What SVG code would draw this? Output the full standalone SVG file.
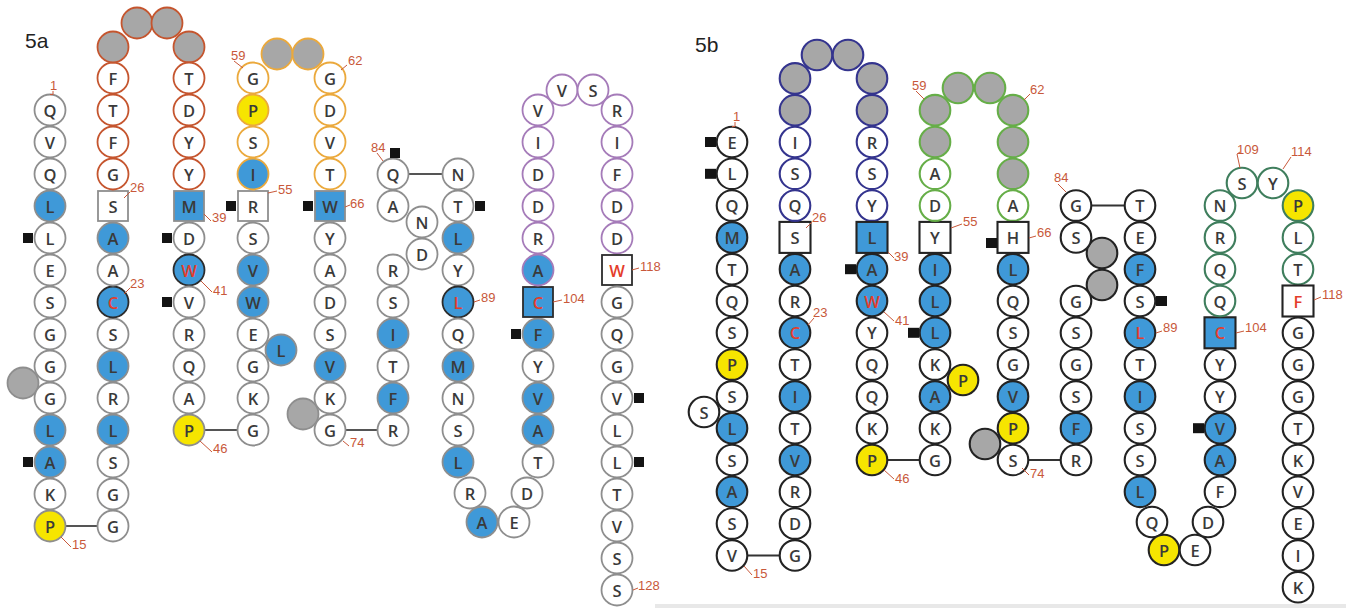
<svg xmlns="http://www.w3.org/2000/svg" width="1346" height="609" viewBox="0 0 1346 609">
<style>
  .n{fill:#fff;stroke:#8e8e8e;stroke-width:1.8}
  .m{fill:#fff;stroke:#232323;stroke-width:2.1}
  .B{fill:#3f99d8}
  .Y{fill:#f6e500}
  .G{fill:#a7a7a7}
  .k{stroke:#2c2c2c}
  .cr{stroke:#c5552e}
  .co{stroke:#eba93c}
  .cp{stroke:#a57bb9}
  .cn{stroke:#34348e}
  .cg{stroke:#66ae48}
  .ct{stroke:#3f7e5d}
  .t{font-family:"Open Sans","Liberation Sans",sans-serif;font-size:16.5px;font-weight:600;fill:#3a3a3a;text-anchor:middle;dominant-baseline:central}
  .R{fill:#e43d2b}
  .l{font-family:"Liberation Sans",sans-serif;font-size:13px;fill:#c8583a}
  .ld{stroke:#c8583a;stroke-width:1;fill:none}
  .q{fill:#141414}
  .cx{stroke:#555;stroke-width:2}
  .cxb{stroke:#333;stroke-width:2}
  .h{font-family:"Liberation Sans",sans-serif;font-size:21px;fill:#222}
</style>
<rect width="1346" height="609" fill="#fff"/>
<line x1="655" y1="606" x2="1346" y2="606" stroke="#e8e8e8" stroke-width="4"/>
<text class="h" x="25" y="48">5a</text>
<text class="h" x="695" y="52">5b</text>

<!-- peptide-bond connectors between strands -->
<g id="connectors">
  <line class="cx" x1="50" y1="526" x2="113" y2="526"/>
  <line class="cx" x1="189" y1="430" x2="253" y2="430"/>
  <line class="cx" x1="330" y1="430" x2="393" y2="430"/>
  <line class="cx" x1="393" y1="174" x2="458" y2="174"/>
  <line class="cxb" x1="732" y1="555.4" x2="795" y2="555.4"/>
  <line class="cxb" x1="872" y1="460" x2="935" y2="460"/>
  <line class="cxb" x1="1013" y1="460" x2="1076" y2="460"/>
  <line class="cxb" x1="1076" y1="205.6" x2="1140" y2="205.6"/>
</g>

<!-- ===== panel 5a ===== -->
<g id="panel-a">
  <!-- unresolved residues drawn first so neighbours overlap them -->
  <g id="a-x1"><circle class="n G" cx="23" cy="383" r="15.5"/></g>
  <g id="a-x2"><circle class="n G" cx="303" cy="414" r="15.5"/></g>

  <!-- strand 1 -->
  <g id="a1"><circle class="n" cx="50" cy="110" r="15.5"/><text class="t" x="50" y="110">Q</text></g>
  <g id="a2"><circle class="n" cx="50" cy="142" r="15.5"/><text class="t" x="50" y="142">V</text></g>
  <g id="a3"><circle class="n" cx="50" cy="174" r="15.5"/><text class="t" x="50" y="174">Q</text></g>
  <g id="a4"><circle class="n B" cx="50" cy="206" r="15.5"/><text class="t" x="50" y="206">L</text></g>
  <g id="a5"><circle class="n" cx="50" cy="238" r="15.5"/><text class="t" x="50" y="238">L</text><rect class="q" x="23" y="233" width="10" height="10"/></g>
  <g id="a6"><circle class="n" cx="50" cy="270" r="15.5"/><text class="t" x="50" y="270">E</text></g>
  <g id="a7"><circle class="n" cx="50" cy="302" r="15.5"/><text class="t" x="50" y="302">S</text></g>
  <g id="a8"><circle class="n" cx="50" cy="334" r="15.5"/><text class="t" x="50" y="334">G</text></g>
  <g id="a9"><circle class="n" cx="50" cy="366" r="15.5"/><text class="t" x="50" y="366">G</text></g>
  <g id="a10"><circle class="n" cx="50" cy="398" r="15.5"/><text class="t" x="50" y="398">G</text></g>
  <g id="a11"><circle class="n B" cx="50" cy="430" r="15.5"/><text class="t" x="50" y="430">L</text></g>
  <g id="a12"><circle class="n B" cx="50" cy="462" r="15.5"/><text class="t" x="50" y="462">A</text><rect class="q" x="23" y="457" width="10" height="10"/></g>
  <g id="a13"><circle class="n" cx="50" cy="494" r="15.5"/><text class="t" x="50" y="494">K</text></g>
  <g id="a14"><circle class="n Y" cx="50" cy="526" r="15.5"/><text class="t" x="50" y="526">P</text></g>

  <!-- strand 2 -->
  <g id="a15"><circle class="n" cx="113" cy="526" r="15.5"/><text class="t" x="113" y="526">G</text></g>
  <g id="a16"><circle class="n" cx="113" cy="494" r="15.5"/><text class="t" x="113" y="494">G</text></g>
  <g id="a17"><circle class="n" cx="113" cy="462" r="15.5"/><text class="t" x="113" y="462">S</text></g>
  <g id="a18"><circle class="n B" cx="113" cy="430" r="15.5"/><text class="t" x="113" y="430">L</text></g>
  <g id="a19"><circle class="n" cx="113" cy="398" r="15.5"/><text class="t" x="113" y="398">R</text></g>
  <g id="a20"><circle class="n B" cx="113" cy="366" r="15.5"/><text class="t" x="113" y="366">L</text></g>
  <g id="a21"><circle class="n" cx="113" cy="334" r="15.5"/><text class="t" x="113" y="334">S</text></g>
  <g id="a22"><circle class="n B k" cx="113" cy="302" r="15.5"/><text class="t R" x="113" y="302">C</text></g>
  <g id="a23"><circle class="n" cx="113" cy="270" r="15.5"/><text class="t" x="113" y="270">A</text></g>
  <g id="a24"><circle class="n B" cx="113" cy="238" r="15.5"/><text class="t" x="113" y="238">A</text></g>
  <g id="a25"><rect class="n" x="98" y="191" width="30" height="30"/><text class="t" x="113" y="206">S</text></g>
  <g id="a26"><circle class="n cr" cx="113" cy="174" r="15.5"/><text class="t" x="113" y="174">G</text></g>
  <g id="a27"><circle class="n cr" cx="113" cy="142" r="15.5"/><text class="t" x="113" y="142">F</text></g>
  <g id="a28"><circle class="n cr" cx="113" cy="110" r="15.5"/><text class="t" x="113" y="110">T</text></g>
  <g id="a29"><circle class="n cr" cx="113" cy="78" r="15.5"/><text class="t" x="113" y="78">F</text></g>
  <g id="a30"><circle class="n G cr" cx="113" cy="47" r="15.5"/></g>
  <g id="a31"><circle class="n G cr" cx="137" cy="23" r="15.5"/></g>
  <g id="a32"><circle class="n G cr" cx="167" cy="23" r="15.5"/></g>
  <g id="a33"><circle class="n G cr" cx="189" cy="47" r="15.5"/></g>

  <!-- strand 3 -->
  <g id="a34"><circle class="n cr" cx="189" cy="78" r="15.5"/><text class="t" x="189" y="78">T</text></g>
  <g id="a35"><circle class="n cr" cx="189" cy="110" r="15.5"/><text class="t" x="189" y="110">D</text></g>
  <g id="a36"><circle class="n cr" cx="189" cy="142" r="15.5"/><text class="t" x="189" y="142">Y</text></g>
  <g id="a37"><circle class="n cr" cx="189" cy="174" r="15.5"/><text class="t" x="189" y="174">Y</text></g>
  <g id="a38"><rect class="n B" x="174" y="191" width="30" height="30"/><text class="t" x="189" y="206">M</text></g>
  <g id="a39"><circle class="n" cx="189" cy="238" r="15.5"/><text class="t" x="189" y="238">D</text><rect class="q" x="162" y="233" width="10" height="10"/></g>
  <g id="a40"><circle class="n B k" cx="189" cy="270" r="15.5"/><text class="t R" x="189" y="270">W</text></g>
  <g id="a41"><circle class="n" cx="189" cy="302" r="15.5"/><text class="t" x="189" y="302">V</text><rect class="q" x="162" y="297" width="10" height="10"/></g>
  <g id="a42"><circle class="n" cx="189" cy="334" r="15.5"/><text class="t" x="189" y="334">R</text></g>
  <g id="a43"><circle class="n" cx="189" cy="366" r="15.5"/><text class="t" x="189" y="366">Q</text></g>
  <g id="a44"><circle class="n" cx="189" cy="398" r="15.5"/><text class="t" x="189" y="398">A</text></g>
  <g id="a45"><circle class="n Y" cx="189" cy="430" r="15.5"/><text class="t" x="189" y="430">P</text></g>

  <!-- strand 4 -->
  <g id="a46"><circle class="n" cx="253" cy="430" r="15.5"/><text class="t" x="253" y="430">G</text></g>
  <g id="a47"><circle class="n" cx="253" cy="398" r="15.5"/><text class="t" x="253" y="398">K</text></g>
  <g id="a48"><circle class="n" cx="253" cy="366" r="15.5"/><text class="t" x="253" y="366">G</text></g>
  <g id="a49"><circle class="n B" cx="281" cy="350" r="15.5"/><text class="t" x="281" y="350">L</text></g>
  <g id="a50"><circle class="n" cx="253" cy="334" r="15.5"/><text class="t" x="253" y="334">E</text></g>
  <g id="a51"><circle class="n B" cx="253" cy="302" r="15.5"/><text class="t" x="253" y="302">W</text></g>
  <g id="a52"><circle class="n B" cx="253" cy="270" r="15.5"/><text class="t" x="253" y="270">V</text></g>
  <g id="a53"><circle class="n" cx="253" cy="238" r="15.5"/><text class="t" x="253" y="238">S</text></g>
  <g id="a54"><rect class="n" x="238" y="191" width="30" height="30"/><text class="t" x="253" y="206">R</text><rect class="q" x="226" y="201" width="10" height="10"/></g>
  <g id="a55"><circle class="n B co" cx="253" cy="174" r="15.5"/><text class="t" x="253" y="174">I</text></g>
  <g id="a56"><circle class="n co" cx="253" cy="142" r="15.5"/><text class="t" x="253" y="142">S</text></g>
  <g id="a57"><circle class="n Y co" cx="253" cy="110" r="15.5"/><text class="t" x="253" y="110">P</text></g>
  <g id="a58"><circle class="n co" cx="253" cy="78" r="15.5"/><text class="t" x="253" y="78">G</text></g>
  <g id="a59"><circle class="n G co" cx="277" cy="54" r="15.5"/></g>
  <g id="a60"><circle class="n G co" cx="308" cy="54" r="15.5"/></g>

  <!-- strand 5 -->
  <g id="a61"><circle class="n co" cx="330" cy="78" r="15.5"/><text class="t" x="330" y="78">G</text></g>
  <g id="a62"><circle class="n co" cx="330" cy="110" r="15.5"/><text class="t" x="330" y="110">D</text></g>
  <g id="a63"><circle class="n co" cx="330" cy="142" r="15.5"/><text class="t" x="330" y="142">V</text></g>
  <g id="a64"><circle class="n co" cx="330" cy="174" r="15.5"/><text class="t" x="330" y="174">T</text></g>
  <g id="a65"><rect class="n B" x="315" y="191" width="30" height="30"/><text class="t" x="330" y="206">W</text><rect class="q" x="303" y="201" width="10" height="10"/></g>
  <g id="a66"><circle class="n" cx="330" cy="238" r="15.5"/><text class="t" x="330" y="238">Y</text></g>
  <g id="a67"><circle class="n" cx="330" cy="270" r="15.5"/><text class="t" x="330" y="270">A</text></g>
  <g id="a68"><circle class="n" cx="330" cy="302" r="15.5"/><text class="t" x="330" y="302">D</text></g>
  <g id="a69"><circle class="n" cx="330" cy="334" r="15.5"/><text class="t" x="330" y="334">S</text></g>
  <g id="a70"><circle class="n B" cx="330" cy="366" r="15.5"/><text class="t" x="330" y="366">V</text></g>
  <g id="a71"><circle class="n" cx="330" cy="398" r="15.5"/><text class="t" x="330" y="398">K</text></g>
  <g id="a72"><circle class="n" cx="330" cy="430" r="15.5"/><text class="t" x="330" y="430">G</text></g>

  <!-- strand 6 -->
  <g id="a73"><circle class="n" cx="393" cy="430" r="15.5"/><text class="t" x="393" y="430">R</text></g>
  <g id="a74"><circle class="n B" cx="393" cy="398" r="15.5"/><text class="t" x="393" y="398">F</text></g>
  <g id="a75"><circle class="n" cx="393" cy="366" r="15.5"/><text class="t" x="393" y="366">T</text></g>
  <g id="a76"><circle class="n B" cx="393" cy="334" r="15.5"/><text class="t" x="393" y="334">I</text></g>
  <g id="a77"><circle class="n" cx="393" cy="302" r="15.5"/><text class="t" x="393" y="302">S</text></g>
  <g id="a78"><circle class="n" cx="393" cy="270" r="15.5"/><text class="t" x="393" y="270">R</text></g>
  <g id="a79"><circle class="n" cx="422" cy="254" r="15.5"/><text class="t" x="422" y="254">D</text></g>
  <g id="a80"><circle class="n" cx="422" cy="222" r="15.5"/><text class="t" x="422" y="222">N</text></g>
  <g id="a81"><circle class="n" cx="393" cy="206" r="15.5"/><text class="t" x="393" y="206">A</text></g>
  <g id="a82"><circle class="n" cx="393" cy="174" r="15.5"/><text class="t" x="393" y="174">Q</text><rect class="q" x="390" y="148" width="10" height="10"/></g>

  <!-- strand 7 -->
  <g id="a83"><circle class="n" cx="458" cy="174" r="15.5"/><text class="t" x="458" y="174">N</text></g>
  <g id="a84"><circle class="n" cx="458" cy="206" r="15.5"/><text class="t" x="458" y="206">T</text><rect class="q" x="475" y="201" width="10" height="10"/></g>
  <g id="a85"><circle class="n B" cx="458" cy="238" r="15.5"/><text class="t" x="458" y="238">L</text></g>
  <g id="a86"><circle class="n" cx="458" cy="270" r="15.5"/><text class="t" x="458" y="270">Y</text></g>
  <g id="a87"><circle class="n B k" cx="458" cy="302" r="15.5"/><text class="t R" x="458" y="302">L</text></g>
  <g id="a88"><circle class="n" cx="458" cy="334" r="15.5"/><text class="t" x="458" y="334">Q</text></g>
  <g id="a89"><circle class="n B" cx="458" cy="366" r="15.5"/><text class="t" x="458" y="366">M</text></g>
  <g id="a90"><circle class="n" cx="458" cy="398" r="15.5"/><text class="t" x="458" y="398">N</text></g>
  <g id="a91"><circle class="n" cx="458" cy="430" r="15.5"/><text class="t" x="458" y="430">S</text></g>
  <g id="a92"><circle class="n B" cx="458" cy="462" r="15.5"/><text class="t" x="458" y="462">L</text></g>
  <g id="a93"><circle class="n" cx="470" cy="493" r="15.5"/><text class="t" x="470" y="493">R</text></g>
  <g id="a94"><circle class="n B" cx="482" cy="522" r="15.5"/><text class="t" x="482" y="522">A</text></g>
  <g id="a95"><circle class="n" cx="514" cy="522" r="15.5"/><text class="t" x="514" y="522">E</text></g>
  <g id="a96"><circle class="n" cx="527" cy="493" r="15.5"/><text class="t" x="527" y="493">D</text></g>

  <!-- strand 8 -->
  <g id="a97"><circle class="n" cx="538" cy="462" r="15.5"/><text class="t" x="538" y="462">T</text></g>
  <g id="a98"><circle class="n B" cx="538" cy="430" r="15.5"/><text class="t" x="538" y="430">A</text></g>
  <g id="a99"><circle class="n B" cx="538" cy="398" r="15.5"/><text class="t" x="538" y="398">V</text></g>
  <g id="a100"><circle class="n" cx="538" cy="366" r="15.5"/><text class="t" x="538" y="366">Y</text></g>
  <g id="a101"><circle class="n B" cx="538" cy="334" r="15.5"/><text class="t" x="538" y="334">F</text><rect class="q" x="511" y="329" width="10" height="10"/></g>
  <g id="a102"><rect class="n B k" x="523" y="287" width="30" height="30"/><text class="t R" x="538" y="302">C</text></g>
  <g id="a103"><circle class="n B cp" cx="538" cy="270" r="15.5"/><text class="t" x="538" y="270">A</text></g>
  <g id="a104"><circle class="n cp" cx="538" cy="238" r="15.5"/><text class="t" x="538" y="238">R</text></g>
  <g id="a105"><circle class="n cp" cx="538" cy="206" r="15.5"/><text class="t" x="538" y="206">D</text></g>
  <g id="a106"><circle class="n cp" cx="538" cy="174" r="15.5"/><text class="t" x="538" y="174">D</text></g>
  <g id="a107"><circle class="n cp" cx="538" cy="142" r="15.5"/><text class="t" x="538" y="142">I</text></g>
  <g id="a108"><circle class="n cp" cx="538" cy="110" r="15.5"/><text class="t" x="538" y="110">V</text></g>
  <g id="a109"><circle class="n cp" cx="562" cy="90" r="15.5"/><text class="t" x="562" y="90">V</text></g>
  <g id="a110"><circle class="n cp" cx="593" cy="90" r="15.5"/><text class="t" x="593" y="90">S</text></g>

  <!-- strand 9 -->
  <g id="a111"><circle class="n cp" cx="617" cy="110" r="15.5"/><text class="t" x="617" y="110">R</text></g>
  <g id="a112"><circle class="n cp" cx="617" cy="142" r="15.5"/><text class="t" x="617" y="142">I</text></g>
  <g id="a113"><circle class="n cp" cx="617" cy="174" r="15.5"/><text class="t" x="617" y="174">F</text></g>
  <g id="a114"><circle class="n cp" cx="617" cy="206" r="15.5"/><text class="t" x="617" y="206">D</text></g>
  <g id="a115"><circle class="n cp" cx="617" cy="238" r="15.5"/><text class="t" x="617" y="238">D</text></g>
  <g id="a116"><rect class="n k" x="602" y="255" width="30" height="30"/><text class="t R" x="617" y="270">W</text></g>
  <g id="a117"><circle class="n" cx="617" cy="302" r="15.5"/><text class="t" x="617" y="302">G</text></g>
  <g id="a118"><circle class="n" cx="617" cy="334" r="15.5"/><text class="t" x="617" y="334">Q</text></g>
  <g id="a119"><circle class="n" cx="617" cy="366" r="15.5"/><text class="t" x="617" y="366">G</text></g>
  <g id="a120"><circle class="n" cx="617" cy="398" r="15.5"/><text class="t" x="617" y="398">V</text><rect class="q" x="634" y="393" width="10" height="10"/></g>
  <g id="a121"><circle class="n" cx="617" cy="430" r="15.5"/><text class="t" x="617" y="430">L</text></g>
  <g id="a122"><circle class="n" cx="617" cy="462" r="15.5"/><text class="t" x="617" y="462">L</text><rect class="q" x="634" y="457" width="10" height="10"/></g>
  <g id="a123"><circle class="n" cx="617" cy="494" r="15.5"/><text class="t" x="617" y="494">T</text></g>
  <g id="a124"><circle class="n" cx="617" cy="526" r="15.5"/><text class="t" x="617" y="526">V</text></g>
  <g id="a125"><circle class="n" cx="617" cy="558" r="15.5"/><text class="t" x="617" y="558">S</text></g>
  <g id="a126"><circle class="n" cx="617" cy="590" r="15.5"/><text class="t" x="617" y="590">S</text></g>
</g>

<!-- residue numbers, panel 5a -->
<g id="labels-a">
  <path class="ld" d="M50,94.5 L53,94.5 L53,91"/><text class="l" x="50" y="90">1</text>
  <path class="ld" d="M124,198 L130,192"/><text class="l" x="130" y="192">26</text>
  <path class="ld" d="M124,294 L130,288"/><text class="l" x="130" y="288">23</text>
  <path class="ld" d="M204,214 L211,221"/><text class="l" x="212" y="222">39</text>
  <path class="ld" d="M201,281 L212,292"/><text class="l" x="213" y="295">41</text>
  <path class="ld" d="M61,537 L71,547"/><text class="l" x="72" y="549">15</text>
  <path class="ld" d="M200,441 L212,452"/><text class="l" x="213" y="453">46</text>
  <path class="ld" d="M234,61 L243,68"/><text class="l" x="231" y="60">59</text>
  <path class="ld" d="M347,65 L341,70"/><text class="l" x="348" y="65">62</text>
  <path class="ld" d="M268,193 L277,191"/><text class="l" x="278" y="194">55</text>
  <path class="ld" d="M345,207 L350,205"/><text class="l" x="350" y="208">66</text>
  <path class="ld" d="M343,441 L349,446"/><text class="l" x="350" y="447">74</text>
  <path class="ld" d="M377,153 L383,161"/><text class="l" x="371" y="152">84</text>
  <path class="ld" d="M474,302 L480,300"/><text class="l" x="481" y="302">89</text>
  <path class="ld" d="M553,302 L562,300"/><text class="l" x="563" y="303">104</text>
  <path class="ld" d="M632,270 L639,268"/><text class="l" x="640" y="271">118</text>
  <path class="ld" d="M633,590 L638,588"/><text class="l" x="638" y="590">128</text>
</g>

<!-- ===== panel 5b ===== -->
<g id="panel-b">
  <g id="b-x1"><circle class="m G" cx="985" cy="444" r="15.3"/></g>
  <g id="b-x2"><circle class="m G" cx="1102" cy="253" r="15.3"/></g>
  <g id="b-x3"><circle class="m G" cx="1102" cy="285" r="15.3"/></g>

  <!-- strand 1 -->
  <g id="b1"><circle class="m" cx="732" cy="142" r="15.3"/><text class="t" x="732" y="142">E</text><rect class="q" x="705" y="137" width="11" height="10"/></g>
  <g id="b2"><circle class="m" cx="732" cy="173.8" r="15.3"/><text class="t" x="732" y="173.8">L</text><rect class="q" x="705" y="168.8" width="11" height="10"/></g>
  <g id="b3"><circle class="m" cx="732" cy="205.6" r="15.3"/><text class="t" x="732" y="205.6">Q</text></g>
  <g id="b4"><circle class="m B" cx="732" cy="237.4" r="15.3"/><text class="t" x="732" y="237.4">M</text></g>
  <g id="b5"><circle class="m" cx="732" cy="269.2" r="15.3"/><text class="t" x="732" y="269.2">T</text></g>
  <g id="b6"><circle class="m" cx="732" cy="301" r="15.3"/><text class="t" x="732" y="301">Q</text></g>
  <g id="b7"><circle class="m" cx="732" cy="332.8" r="15.3"/><text class="t" x="732" y="332.8">S</text></g>
  <g id="b8"><circle class="m Y" cx="732" cy="364.6" r="15.3"/><text class="t" x="732" y="364.6">P</text></g>
  <g id="b9"><circle class="m" cx="732" cy="396.4" r="15.3"/><text class="t" x="732" y="396.4">S</text></g>
  <g id="b10"><circle class="m" cx="704" cy="412" r="15.3"/><text class="t" x="704" y="412">S</text></g>
  <g id="b11"><circle class="m B" cx="732" cy="428.2" r="15.3"/><text class="t" x="732" y="428.2">L</text></g>
  <g id="b12"><circle class="m" cx="732" cy="460" r="15.3"/><text class="t" x="732" y="460">S</text></g>
  <g id="b13"><circle class="m B" cx="732" cy="491.8" r="15.3"/><text class="t" x="732" y="491.8">A</text></g>
  <g id="b14"><circle class="m" cx="732" cy="523.6" r="15.3"/><text class="t" x="732" y="523.6">S</text></g>
  <g id="b15"><circle class="m" cx="732" cy="555.4" r="15.3"/><text class="t" x="732" y="555.4">V</text></g>

  <!-- strand 2 -->
  <g id="b16"><circle class="m" cx="795" cy="555.4" r="15.3"/><text class="t" x="795" y="555.4">G</text></g>
  <g id="b17"><circle class="m" cx="795" cy="523.6" r="15.3"/><text class="t" x="795" y="523.6">D</text></g>
  <g id="b18"><circle class="m" cx="795" cy="491.8" r="15.3"/><text class="t" x="795" y="491.8">R</text></g>
  <g id="b19"><circle class="m B" cx="795" cy="460" r="15.3"/><text class="t" x="795" y="460">V</text></g>
  <g id="b20"><circle class="m" cx="795" cy="428.2" r="15.3"/><text class="t" x="795" y="428.2">T</text></g>
  <g id="b21"><circle class="m B" cx="795" cy="396.4" r="15.3"/><text class="t" x="795" y="396.4">I</text></g>
  <g id="b22"><circle class="m" cx="795" cy="364.6" r="15.3"/><text class="t" x="795" y="364.6">T</text></g>
  <g id="b23"><circle class="m B" cx="795" cy="332.8" r="15.3"/><text class="t R" x="795" y="332.8">C</text></g>
  <g id="b24"><circle class="m" cx="795" cy="301" r="15.3"/><text class="t" x="795" y="301">R</text></g>
  <g id="b25"><circle class="m B" cx="795" cy="269.2" r="15.3"/><text class="t" x="795" y="269.2">A</text></g>
  <g id="b26"><rect class="m" x="779.5" y="221.9" width="31" height="31"/><text class="t" x="795" y="237.4">S</text></g>
  <g id="b27"><circle class="m cn" cx="795" cy="205.6" r="15.3"/><text class="t" x="795" y="205.6">Q</text></g>
  <g id="b28"><circle class="m cn" cx="795" cy="173.8" r="15.3"/><text class="t" x="795" y="173.8">S</text></g>
  <g id="b29"><circle class="m cn" cx="795" cy="142" r="15.3"/><text class="t" x="795" y="142">I</text></g>
  <g id="b30"><circle class="m G cn" cx="795" cy="110.2" r="15.3"/></g>
  <g id="b31"><circle class="m G cn" cx="795" cy="78.4" r="15.3"/></g>
  <g id="b32"><circle class="m G cn" cx="817" cy="55" r="15.3"/></g>
  <g id="b33"><circle class="m G cn" cx="848" cy="55" r="15.3"/></g>
  <g id="b34"><circle class="m G cn" cx="872" cy="78.4" r="15.3"/></g>
  <g id="b35"><circle class="m G cn" cx="872" cy="110.2" r="15.3"/></g>

  <!-- strand 3 -->
  <g id="b36"><circle class="m cn" cx="872" cy="142" r="15.3"/><text class="t" x="872" y="142">R</text></g>
  <g id="b37"><circle class="m cn" cx="872" cy="173.8" r="15.3"/><text class="t" x="872" y="173.8">S</text></g>
  <g id="b38"><circle class="m cn" cx="872" cy="205.6" r="15.3"/><text class="t" x="872" y="205.6">Y</text></g>
  <g id="b39"><rect class="m B" x="856.5" y="221.9" width="31" height="31"/><text class="t" x="872" y="237.4">L</text></g>
  <g id="b40"><circle class="m B" cx="872" cy="269.2" r="15.3"/><text class="t" x="872" y="269.2">A</text><rect class="q" x="845" y="264.2" width="11" height="10"/></g>
  <g id="b41"><circle class="m B" cx="872" cy="301" r="15.3"/><text class="t R" x="872" y="301">W</text></g>
  <g id="b42"><circle class="m" cx="872" cy="332.8" r="15.3"/><text class="t" x="872" y="332.8">Y</text></g>
  <g id="b43"><circle class="m" cx="872" cy="364.6" r="15.3"/><text class="t" x="872" y="364.6">Q</text></g>
  <g id="b44"><circle class="m" cx="872" cy="396.4" r="15.3"/><text class="t" x="872" y="396.4">Q</text></g>
  <g id="b45"><circle class="m" cx="872" cy="428.2" r="15.3"/><text class="t" x="872" y="428.2">K</text></g>
  <g id="b46"><circle class="m Y" cx="872" cy="460" r="15.3"/><text class="t" x="872" y="460">P</text></g>

  <!-- strand 4 -->
  <g id="b47"><circle class="m" cx="935" cy="460" r="15.3"/><text class="t" x="935" y="460">G</text></g>
  <g id="b48"><circle class="m" cx="935" cy="428.2" r="15.3"/><text class="t" x="935" y="428.2">K</text></g>
  <g id="b49"><circle class="m B" cx="935" cy="396.4" r="15.3"/><text class="t" x="935" y="396.4">A</text></g>
  <g id="b50"><circle class="m Y" cx="963" cy="380" r="15.3"/><text class="t" x="963" y="380">P</text></g>
  <g id="b51"><circle class="m" cx="935" cy="364.6" r="15.3"/><text class="t" x="935" y="364.6">K</text></g>
  <g id="b52"><circle class="m B" cx="935" cy="332.8" r="15.3"/><text class="t" x="935" y="332.8">L</text><rect class="q" x="908" y="327.8" width="11" height="10"/></g>
  <g id="b53"><circle class="m B" cx="935" cy="301" r="15.3"/><text class="t" x="935" y="301">L</text></g>
  <g id="b54"><circle class="m B" cx="935" cy="269.2" r="15.3"/><text class="t" x="935" y="269.2">I</text></g>
  <g id="b55"><rect class="m" x="919.5" y="221.9" width="31" height="31"/><text class="t" x="935" y="237.4">Y</text></g>
  <g id="b56"><circle class="m cg" cx="935" cy="205.6" r="15.3"/><text class="t" x="935" y="205.6">D</text></g>
  <g id="b57"><circle class="m cg" cx="935" cy="173.8" r="15.3"/><text class="t" x="935" y="173.8">A</text></g>
  <g id="b58"><circle class="m G cg" cx="935" cy="142" r="15.3"/></g>
  <g id="b59"><circle class="m G cg" cx="935" cy="110.2" r="15.3"/></g>
  <g id="b60"><circle class="m G cg" cx="958" cy="88" r="15.3"/></g>
  <g id="b61"><circle class="m G cg" cx="990" cy="88" r="15.3"/></g>
  <g id="b62"><circle class="m G cg" cx="1013" cy="110.2" r="15.3"/></g>

  <!-- strand 5 -->
  <g id="b63"><circle class="m G cg" cx="1013" cy="142" r="15.3"/></g>
  <g id="b64"><circle class="m G cg" cx="1013" cy="173.8" r="15.3"/></g>
  <g id="b65"><circle class="m cg" cx="1013" cy="205.6" r="15.3"/><text class="t" x="1013" y="205.6">A</text></g>
  <g id="b66"><rect class="m" x="997.5" y="221.9" width="31" height="31"/><text class="t" x="1013" y="237.4">H</text><rect class="q" x="986" y="238" width="11" height="10"/></g>
  <g id="b67"><circle class="m B" cx="1013" cy="269.2" r="15.3"/><text class="t" x="1013" y="269.2">L</text></g>
  <g id="b68"><circle class="m" cx="1013" cy="301" r="15.3"/><text class="t" x="1013" y="301">Q</text></g>
  <g id="b69"><circle class="m" cx="1013" cy="332.8" r="15.3"/><text class="t" x="1013" y="332.8">S</text></g>
  <g id="b70"><circle class="m" cx="1013" cy="364.6" r="15.3"/><text class="t" x="1013" y="364.6">G</text></g>
  <g id="b71"><circle class="m B" cx="1013" cy="396.4" r="15.3"/><text class="t" x="1013" y="396.4">V</text></g>
  <g id="b72"><circle class="m Y" cx="1013" cy="428.2" r="15.3"/><text class="t" x="1013" y="428.2">P</text></g>
  <g id="b73"><circle class="m" cx="1013" cy="460" r="15.3"/><text class="t" x="1013" y="460">S</text></g>

  <!-- strand 6 -->
  <g id="b74"><circle class="m" cx="1076" cy="460" r="15.3"/><text class="t" x="1076" y="460">R</text></g>
  <g id="b75"><circle class="m B" cx="1076" cy="428.2" r="15.3"/><text class="t" x="1076" y="428.2">F</text></g>
  <g id="b76"><circle class="m" cx="1076" cy="396.4" r="15.3"/><text class="t" x="1076" y="396.4">S</text></g>
  <g id="b77"><circle class="m" cx="1076" cy="364.6" r="15.3"/><text class="t" x="1076" y="364.6">G</text></g>
  <g id="b78"><circle class="m" cx="1076" cy="332.8" r="15.3"/><text class="t" x="1076" y="332.8">S</text></g>
  <g id="b79"><circle class="m" cx="1076" cy="301" r="15.3"/><text class="t" x="1076" y="301">G</text></g>
  <g id="b80"><circle class="m" cx="1076" cy="237.4" r="15.3"/><text class="t" x="1076" y="237.4">S</text></g>
  <g id="b81"><circle class="m" cx="1076" cy="205.6" r="15.3"/><text class="t" x="1076" y="205.6">G</text></g>

  <!-- strand 7 -->
  <g id="b82"><circle class="m" cx="1140" cy="205.6" r="15.3"/><text class="t" x="1140" y="205.6">T</text></g>
  <g id="b83"><circle class="m" cx="1140" cy="237.4" r="15.3"/><text class="t" x="1140" y="237.4">E</text></g>
  <g id="b84"><circle class="m B" cx="1140" cy="269.2" r="15.3"/><text class="t" x="1140" y="269.2">F</text></g>
  <g id="b85"><circle class="m" cx="1140" cy="301" r="15.3"/><text class="t" x="1140" y="301">S</text><rect class="q" x="1156" y="296" width="11" height="10"/></g>
  <g id="b86"><circle class="m B" cx="1140" cy="332.8" r="15.3"/><text class="t R" x="1140" y="332.8">L</text></g>
  <g id="b87"><circle class="m" cx="1140" cy="364.6" r="15.3"/><text class="t" x="1140" y="364.6">T</text></g>
  <g id="b88"><circle class="m B" cx="1140" cy="396.4" r="15.3"/><text class="t" x="1140" y="396.4">I</text></g>
  <g id="b89"><circle class="m" cx="1140" cy="428.2" r="15.3"/><text class="t" x="1140" y="428.2">S</text></g>
  <g id="b90"><circle class="m" cx="1140" cy="460" r="15.3"/><text class="t" x="1140" y="460">S</text></g>
  <g id="b91"><circle class="m B" cx="1140" cy="491.8" r="15.3"/><text class="t" x="1140" y="491.8">L</text></g>
  <g id="b92"><circle class="m" cx="1152" cy="522" r="15.3"/><text class="t" x="1152" y="522">Q</text></g>
  <g id="b93"><circle class="m Y" cx="1164" cy="550" r="15.3"/><text class="t" x="1164" y="550">P</text></g>
  <g id="b94"><circle class="m" cx="1195" cy="550" r="15.3"/><text class="t" x="1195" y="550">E</text></g>
  <g id="b95"><circle class="m" cx="1208" cy="522" r="15.3"/><text class="t" x="1208" y="522">D</text></g>

  <!-- strand 8 -->
  <g id="b96"><circle class="m" cx="1220" cy="491.8" r="15.3"/><text class="t" x="1220" y="491.8">F</text></g>
  <g id="b97"><circle class="m B" cx="1220" cy="460" r="15.3"/><text class="t" x="1220" y="460">A</text></g>
  <g id="b98"><circle class="m B" cx="1220" cy="428.2" r="15.3"/><text class="t" x="1220" y="428.2">V</text><rect class="q" x="1193" y="423.2" width="11" height="10"/></g>
  <g id="b99"><circle class="m" cx="1220" cy="396.4" r="15.3"/><text class="t" x="1220" y="396.4">Y</text></g>
  <g id="b100"><circle class="m" cx="1220" cy="364.6" r="15.3"/><text class="t" x="1220" y="364.6">Y</text></g>
  <g id="b101"><rect class="m B" x="1204.5" y="317.3" width="31" height="31"/><text class="t R" x="1220" y="332.8">C</text></g>
  <g id="b102"><circle class="m ct" cx="1220" cy="301" r="15.3"/><text class="t" x="1220" y="301">Q</text></g>
  <g id="b103"><circle class="m ct" cx="1220" cy="269.2" r="15.3"/><text class="t" x="1220" y="269.2">Q</text></g>
  <g id="b104"><circle class="m ct" cx="1220" cy="237.4" r="15.3"/><text class="t" x="1220" y="237.4">R</text></g>
  <g id="b105"><circle class="m ct" cx="1220" cy="205.6" r="15.3"/><text class="t" x="1220" y="205.6">N</text></g>
  <g id="b106"><circle class="m ct" cx="1242" cy="183" r="15.3"/><text class="t" x="1242" y="183">S</text></g>
  <g id="b107"><circle class="m ct" cx="1273" cy="183" r="15.3"/><text class="t" x="1273" y="183">Y</text></g>

  <!-- strand 9 -->
  <g id="b108"><circle class="m Y ct" cx="1298" cy="205.6" r="15.3"/><text class="t" x="1298" y="205.6">P</text></g>
  <g id="b109"><circle class="m ct" cx="1298" cy="237.4" r="15.3"/><text class="t" x="1298" y="237.4">L</text></g>
  <g id="b110"><circle class="m ct" cx="1298" cy="269.2" r="15.3"/><text class="t" x="1298" y="269.2">T</text></g>
  <g id="b111"><rect class="m" x="1282.5" y="285.5" width="31" height="31"/><text class="t R" x="1298" y="301">F</text></g>
  <g id="b112"><circle class="m" cx="1298" cy="332.8" r="15.3"/><text class="t" x="1298" y="332.8">G</text></g>
  <g id="b113"><circle class="m" cx="1298" cy="364.6" r="15.3"/><text class="t" x="1298" y="364.6">G</text></g>
  <g id="b114"><circle class="m" cx="1298" cy="396.4" r="15.3"/><text class="t" x="1298" y="396.4">G</text></g>
  <g id="b115"><circle class="m" cx="1298" cy="428.2" r="15.3"/><text class="t" x="1298" y="428.2">T</text></g>
  <g id="b116"><circle class="m" cx="1298" cy="460" r="15.3"/><text class="t" x="1298" y="460">K</text></g>
  <g id="b117"><circle class="m" cx="1298" cy="491.8" r="15.3"/><text class="t" x="1298" y="491.8">V</text></g>
  <g id="b118"><circle class="m" cx="1298" cy="523.6" r="15.3"/><text class="t" x="1298" y="523.6">E</text></g>
  <g id="b119"><circle class="m" cx="1298" cy="555.4" r="15.3"/><text class="t" x="1298" y="555.4">I</text></g>
  <g id="b120"><circle class="m" cx="1298" cy="587.2" r="15.3"/><text class="t" x="1298" y="587.2">K</text></g>
</g>

<!-- residue numbers, panel 5b -->
<g id="labels-b">
  <path class="ld" d="M732,126.5 L735,126.5 L735,122"/><text class="l" x="733" y="121">1</text>
  <path class="ld" d="M806,228 L812,222"/><text class="l" x="812" y="222">26</text>
  <path class="ld" d="M808,325 L814,318"/><text class="l" x="813" y="317">23</text>
  <path class="ld" d="M888,252 L894,258"/><text class="l" x="894" y="261">39</text>
  <path class="ld" d="M884,312 L894,321"/><text class="l" x="895" y="325">41</text>
  <path class="ld" d="M744,566 L752,575"/><text class="l" x="753" y="578">15</text>
  <path class="ld" d="M884,470 L894,479"/><text class="l" x="895" y="483">46</text>
  <path class="ld" d="M916,91 L924,99"/><text class="l" x="912" y="90">59</text>
  <path class="ld" d="M1030,94 L1024,100"/><text class="l" x="1030" y="94">62</text>
  <path class="ld" d="M951,228 L962,224"/><text class="l" x="963" y="226">55</text>
  <path class="ld" d="M1029,238 L1036,236"/><text class="l" x="1037" y="237">66</text>
  <path class="ld" d="M1058,184 L1066,192"/><text class="l" x="1054" y="182">84</text>
  <path class="ld" d="M1022,468 L1029,475"/><text class="l" x="1030" y="478">74</text>
  <path class="ld" d="M1156,333 L1162,331"/><text class="l" x="1163" y="332">89</text>
  <path class="ld" d="M1236,333 L1244,331"/><text class="l" x="1245" y="332">104</text>
  <path class="ld" d="M1314,300 L1321,297"/><text class="l" x="1322" y="299">118</text>
  <path class="ld" d="M1240,168 L1237,154 L1240,152"/><text class="l" x="1237" y="154">109</text>
  <path class="ld" d="M1283,169 L1291,157"/><text class="l" x="1291" y="156">114</text>
</g>
</svg>
